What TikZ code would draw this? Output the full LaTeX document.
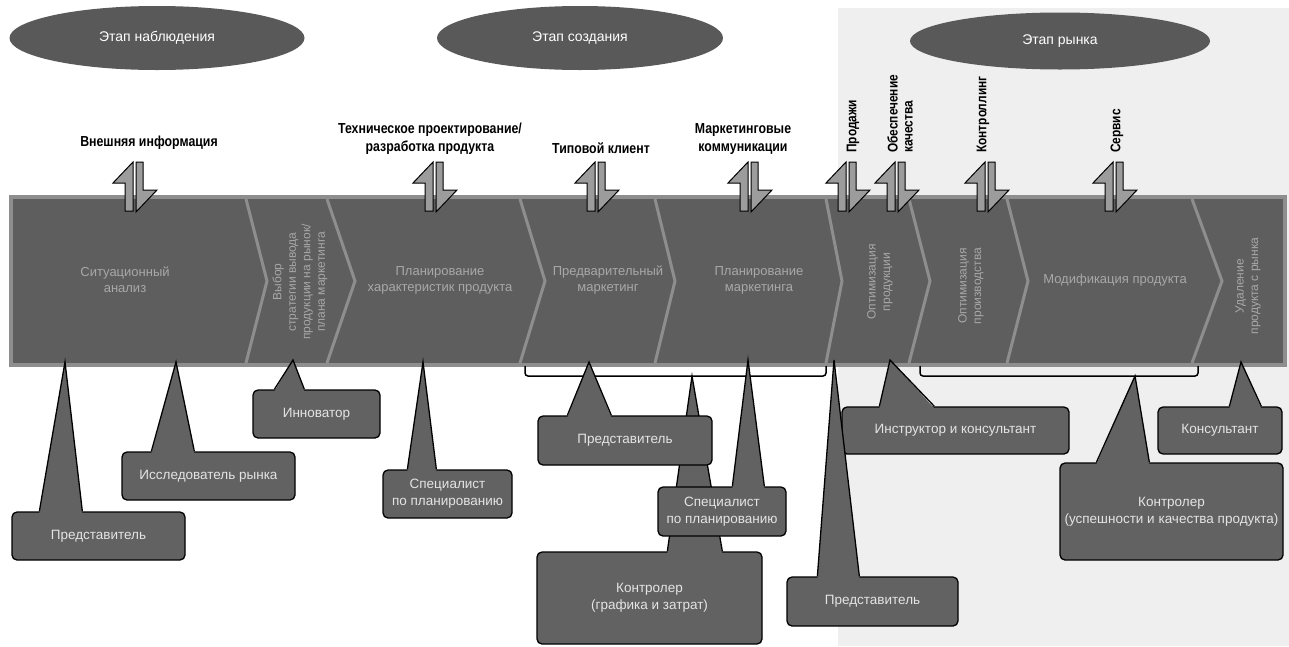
\documentclass[tikz,border=0pt]{standalone}
\usepackage{fontspec}
\setmainfont{Liberation Sans}
\newfontfamily\labelfont[FakeStretch=0.85]{Liberation Sans}
\usetikzlibrary{positioning,shapes,calc}

\definecolor{bandfill}{HTML}{5E5E5E}
\definecolor{bandedge}{HTML}{8E8E8E}
\definecolor{bandtext}{HTML}{A8A8A8}
\definecolor{callfill}{HTML}{626262}
\definecolor{calltext}{HTML}{E4E4E4}
\definecolor{stagefill}{HTML}{595959}
\definecolor{arrowfill}{HTML}{9C9C9C}
\definecolor{texture}{HTML}{EFEFEF}

\begin{document}
\begin{tikzpicture}[x=1pt,y=-1pt,
    stage/.style={ellipse,fill=stagefill,text=white,font=\fontsize{14}{16}\selectfont,inner sep=0pt},
    stepname/.style={text=bandtext,font=\fontsize{13}{16}\selectfont,align=center},
    vstepname/.style={stepname,font=\fontsize{12}{14.5}\selectfont,rotate=90},
    topic/.style={font=\labelfont\bfseries\fontsize{14.5}{18}\selectfont,align=center},
    vtopic/.style={topic,font=\labelfont\bfseries\fontsize{14}{15}\selectfont,rotate=90,anchor=west,align=left,inner sep=0pt},
    callbox/.style={draw=black,line width=1.3pt,fill=callfill,rounded corners=5pt,text=calltext,font=\fontsize{13.5}{17}\selectfont,align=center,inner sep=0pt},
    pointer/.style={draw=black,line width=1.3pt,line join=miter},
    brace/.style={draw=black,line width=1.5pt,rounded corners=3pt},
    swap/.style={fill=arrowfill,draw=black,line width=1pt,line join=miter}]
    \useasboundingbox (0,0) rectangle (1289,646);
    \fill[texture] (838,8) rectangle (1289,646);

    % stages
    \node[stage,minimum width=295,minimum height=64] (observe) at (157,38) {Этап наблюдения};
    \node[stage,minimum width=286,minimum height=64] (create) at (580,38) {Этап создания};
    \node[stage,minimum width=300,minimum height=57] (market) at (1060,41) {Этап рынка};

    % process band
    \draw[fill=bandfill,draw=bandedge,line width=4pt] (11,197) rectangle (1285,365);
    \foreach \a/\b in {246/267,327/355,520/545,655/675,826/842,909/930,1007/1028,1192/1222}
    \draw[bandedge,line width=3pt] (\a,199) -- (\b,281) -- (\a,363);

    \node[stepname] (situation) at (125,280) {Ситуационный\\анализ};
    \node[vstepname] (strategy) at (300,282) {Выбор\\стратегии вывода\\продукции на рынок/\\плана маркетинга};
    \node[stepname] (features) at (440,280) {Планирование\\характеристик продукта};
    \node[stepname] (premarket) at (608,280) {Предварительный\\маркетинг};
    \node[stepname] (mktplan) at (759,280) {Планирование\\маркетинга};
    \node[vstepname] (optprod) at (880,282) {Оптимизация\\продукции};
    \node[vstepname] (optmake) at (971,286) {Оптимизация\\производства};
    \node[stepname] (modify) at (1115,280) {Модификация продукта};
    \node[vstepname] (remove) at (1248,286) {Удаление\\продукта с рынка};

    % exchange arrows
    \foreach \x in {135,435,597,750,848,897,987,1115} {
    \filldraw[swap] (\x-2,162) -- (\x-22,183) -- (\x-10,183) -- (\x-10,211) -- (\x-2,211) -- cycle;
    \filldraw[swap] (\x+1,162) -- (\x+8,162) -- (\x+8,190) -- (\x+22,190) -- (\x+1,212) -- cycle;
    }

    % label
    \node[topic] (extinfo) at (149,143) {Внешняя информация};
    \node[topic] (design) at (430,139) {Техническое проектирование/\\разработка продукта};
    \node[topic] (client) at (601,148) {Типовой клиент};
    \node[topic] (mktcomm) at (743,139) {Маркетинговые\\коммуникации};
    \node[vtopic] (sales) at (853,153) {Продажи};
    \node[vtopic] (quality) at (900,153) {Обеспечение\\качества};
    \node[vtopic] (controlling) at (983,153) {Контроллинг};
    \node[vtopic] (service) at (1117,153) {Сервис};

    % braces
    \coordinate (brace1) at (692,376);
    \coordinate (brace2) at (1135,376);
    \draw[brace] (525,366) |- (brace1) -| (826,366);
    \draw[brace] (920,366) |- (brace2) -| (1198,366);

    % roles
    \coordinate (tip1) at (65,362);
    \coordinate (tip2) at (176,362);
    \coordinate (tip3) at (293,360);
    \coordinate (tip4) at (423,362);
    \coordinate (tip6) at (589,362);
    \coordinate (tip7) at (748,360);
    \coordinate (tip8) at (834,360);
    \coordinate (tip9) at (890,360);
    \coordinate (tip10) at (1241,362);

    \node[callbox,minimum width=225,minimum height=92] (ctrl1) at (649.5,598) {Контролер\\(графика и затрат)};
    \fill[callfill] (brace1) -- ($(ctrl1.north west)+(131,2)$) -- ($(ctrl1.north west)+(186,2)$) -- cycle;
    \draw[pointer] ($(ctrl1.north west)+(131,0)$) -- (brace1) -- ($(ctrl1.north west)+(186,0)$);

    \node[callbox,minimum width=173,minimum height=48] (rep1) at (98.5,536) {Представитель};
    \node[callbox,minimum width=173,minimum height=48] (research) at (208.5,476) {Исследователь рынка};
    \node[callbox,minimum width=127,minimum height=48] (innov) at (316.5,414) {Инноватор};
    \node[callbox,minimum width=129,minimum height=48] (plan1) at (447.5,494) {Специалист\\по планированию};
    \node[callbox,minimum width=174,minimum height=49] (rep2) at (625,440.5) {Представитель};
    \node[callbox,minimum width=128,minimum height=49] (plan2) at (722,511.5) {Специалист\\по планированию};
    \node[callbox,minimum width=171,minimum height=49] (rep3) at (872.5,601.5) {Представитель};
    \node[callbox,minimum width=227,minimum height=47] (coach) at (955.5,430.5) {Инструктор и консультант};
    \node[callbox,minimum width=124,minimum height=47] (consult) at (1220,430.5) {Консультант};
    \node[callbox,minimum width=223,minimum height=97] (ctrl2) at (1171.5,511.5) {Контролер\\(успешности и качества продукта)};

    \foreach \bx/\tp/\l/\r in {rep1/tip1/28/71,research/tip2/30/73,innov/tip3/22/52,plan1/tip4/25/54,rep2/tip6/30/74,plan2/tip7/75/107,rep3/tip8/31/73,coach/tip9/38/93,consult/tip10/72/104,ctrl2/brace2/37/90} {
    \fill[callfill] (\tp) -- ($(\bx.north west)+(\l,2)$) -- ($(\bx.north west)+(\r,2)$) -- cycle;
    \draw[pointer] ($(\bx.north west)+(\l,0)$) -- (\tp) -- ($(\bx.north west)+(\r,0)$);
    }
\end{tikzpicture}
\end{document}
